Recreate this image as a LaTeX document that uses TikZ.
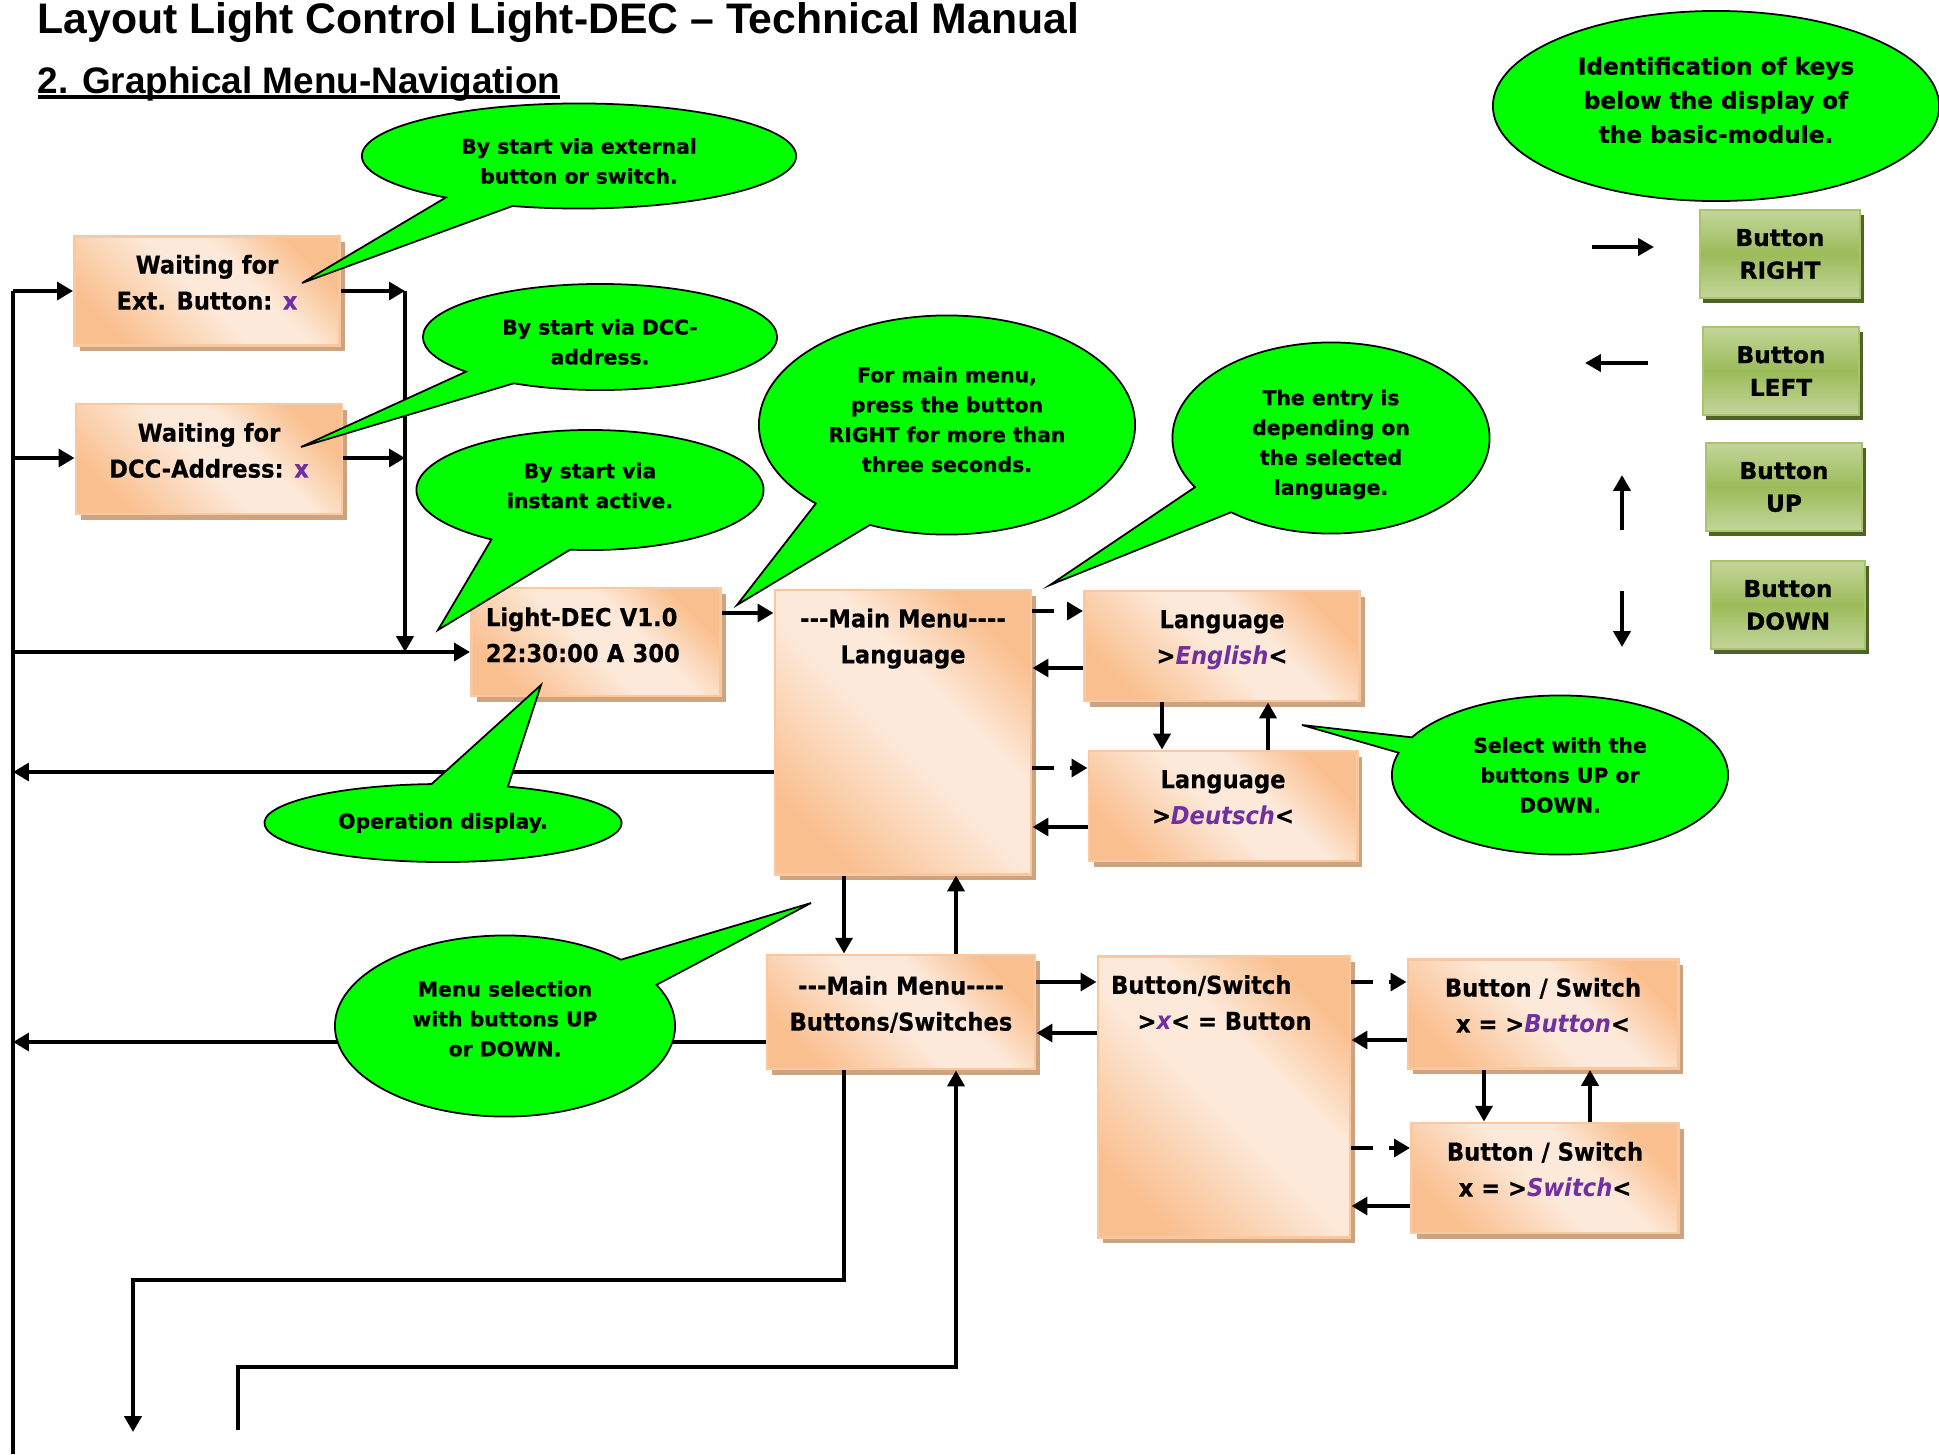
\documentclass[tikz,border=0pt]{standalone}
\usepackage{fontspec}
\usepackage{tikz}
\usetikzlibrary{arrows.meta,positioning,shapes.geometric,shapes.callouts,shadows}
\newfontfamily\headfont{Liberation Sans}
\newfontfamily\boxfont[FakeStretch=0.92, BoldFeatures={FakeBold=0.5}]{DejaVu Sans}
\newfontfamily\notefont[BoldFeatures={FakeBold=0.9}]{DejaVu Sans}
\pgfdeclarelayer{edgelayer}
\pgfdeclarelayer{nodelayer}
\pgfsetlayers{nodelayer,edgelayer,main}
\definecolor{boxlight}{RGB}{253,233,217}
\definecolor{boxorange}{RGB}{250,191,143}
\definecolor{boxedge}{RGB}{250,200,160}
\definecolor{boxshadow}{RGB}{205,163,128}
\definecolor{keylight}{RGB}{195,214,155}
\definecolor{keymid}{RGB}{155,187,89}
\definecolor{keyedge}{RGB}{170,196,110}
\definecolor{keyshadow}{RGB}{79,98,40}
\definecolor{notegreen}{RGB}{0,255,0}
\definecolor{lpurple}{RGB}{112,48,160}
\pgfdeclarehorizontalshading{peach}{100bp}{color(0bp)=(boxorange); color(25bp)=(boxorange); color(48bp)=(boxlight); color(60bp)=(boxlight); color(75bp)=(boxorange); color(100bp)=(boxorange)}
\pgfdeclareverticalshading{olive}{100bp}{color(0bp)=(keylight); color(25bp)=(keylight); color(50bp)=(keymid); color(75bp)=(keylight); color(100bp)=(keylight)}
\tikzstyle{none}=[inner sep=0pt]
\tikzstyle{menubox}=[rectangle, shading=peach, shading angle=45, draw=boxedge, line width=0.8pt, drop shadow={shadow xshift=1.5pt, shadow yshift=-1.6pt, fill=boxshadow, opacity=1}, font=\boxfont\bfseries\fontsize{7}{10.25}\selectfont, align=center, inner sep=2pt, text depth=5pt]
\tikzstyle{toplabel}=[anchor=north, inner sep=5.5pt, align=center, font=\boxfont\bfseries\fontsize{7}{10.25}\selectfont]
\tikzstyle{keybox}=[rectangle, shading=olive, draw=keyedge, line width=0.8pt, drop shadow={shadow xshift=1pt, shadow yshift=-1.3pt, fill=keyshadow, opacity=1}, font=\notefont\bfseries\fontsize{6.6}{9.3}\selectfont, align=center, minimum height=0.88cm]
\tikzstyle{bubble}=[ellipse callout, fill=notegreen, draw=black, line width=0.5pt, inner sep=0pt, align=center, callout pointer arc=20, font=\notefont\bfseries\fontsize{5.8}{8.5}\selectfont]
\tikzstyle{keynote}=[ellipse, fill=notegreen, draw=black, line width=0.5pt, inner sep=0pt, align=center, font=\notefont\bfseries\fontsize{6.6}{9.7}\selectfont]
\tikzstyle{flow}=[line width=1.4pt, -{Triangle[length=4.5pt,width=5pt]}]
\tikzstyle{thinflow}=[line width=1.1pt, -{Triangle[length=4.5pt,width=4.8pt]}]
\tikzstyle{dashflow}=[line width=1.4pt, dash pattern=on 6pt off 4.8pt, -{Triangle[length=4.5pt,width=5pt]}]
\tikzstyle{wire}=[line width=1.1pt]
\newcommand{\sel}[1]{\textcolor{lpurple}{\itshape #1}}
\newcommand{\menuhead}{-\kern0pt-\kern0pt-Main Menu-\kern0pt-\kern0pt-\kern0pt-}

\begin{document}
\begin{tikzpicture}[x=0.01cm, y=-0.01cm]
	\useasboundingbox (0,0) rectangle (1939,1454);
	\begin{pgfonlayer}{nodelayer}
		\node [style=menubox, minimum width=2.65cm, minimum height=1.09cm] (ExtBtn) at (207,291) {Waiting for\\Ext. Button: \textcolor{lpurple}{x}};
		\node [style=menubox, minimum width=2.66cm, minimum height=1.10cm] (DccAddr) at (209,459) {Waiting for\\DCC-Address: \textcolor{lpurple}{x}};
		\node [style=menubox, minimum width=2.49cm, minimum height=1.08cm, text width=2.2cm, align=left, text depth=14.4pt] (LightDec) at (596,642) {Light-DEC V1.0\\22:30:00 A 300};
		\node [style=menubox, minimum width=2.56cm, minimum height=2.84cm, label={[style=toplabel]north:{\menuhead\\Language}}] (MainLang) at (903,732) {};
		\node [style=menubox, minimum width=2.75cm, minimum height=1.10cm] (LangEn) at (1222,646) {Language\\>\sel{English}<};
		\node [style=menubox, minimum width=2.68cm, minimum height=1.10cm] (LangDe) at (1223,806) {Language\\>\sel{Deutsch}<};
		\node [style=menubox, minimum width=2.68cm, minimum height=1.14cm] (MainBtn) at (901,1012) {\menuhead\\Buttons/Switches};
		\node [style=menubox, minimum width=2.52cm, minimum height=2.81cm, label={[style=toplabel, align=left, xshift=-3.6pt]north:{Button/Switch\\\hspace*{7.5pt}>\sel{x}< = Button}}] (BtnSw) at (1224,1097) {};
		\node [style=menubox, minimum width=2.70cm, minimum height=1.09cm] (BswBtn) at (1543,1014) {Button / Switch\\x = >\sel{Button}<};
		\node [style=menubox, minimum width=2.67cm, minimum height=1.10cm] (BswSw) at (1545,1178) {Button / Switch\\x = >\sel{Switch}<};
		\node [style=keybox, minimum width=1.60cm] (KeyRight) at (1780,254) {Button\\RIGHT};
		\node [style=keybox, minimum width=1.56cm] (KeyLeft) at (1781,371) {Button\\LEFT};
		\node [style=keybox, minimum width=1.56cm] (KeyUp) at (1784,487) {Button\\UP};
		\node [style=keybox, minimum width=1.54cm] (KeyDown) at (1788,605) {Button\\DOWN};
		\node [style=none] (busTop) at (13,291) {};
		\node [style=none] (busDcc) at (13,458) {};
		\node [style=none] (busDec) at (13,652) {};
		\node [style=none] (busEnd) at (13,1454) {};
		\node [style=none] (joinTop) at (405,291) {};
		\node [style=none] (joinDcc) at (405,458) {};
		\node [style=none] (lvMenu) at (0,613) {};
		\node [style=none] (lvEn) at (0,611) {};
		\node [style=none] (lvEnRet) at (0,668) {};
		\node [style=none] (lvBack) at (0,772) {};
		\node [style=none] (lvDe) at (0,768) {};
		\node [style=none] (lvDeRet) at (0,827) {};
		\node [style=none] (lvBtn) at (0,982) {};
		\node [style=none] (lvBtnRet) at (0,1033) {};
		\node [style=none] (lvBack2) at (0,1042) {};
		\node [style=none] (lvIRet) at (0,1040) {};
		\node [style=none] (lvSw) at (0,1148) {};
		\node [style=none] (lvSwRet) at (0,1206) {};
		\node [style=none] (colDown) at (844,0) {};
		\node [style=none] (colUp) at (956,0) {};
		\node [style=none] (colEnDown) at (1162,0) {};
		\node [style=none] (colEnUp) at (1268,0) {};
		\node [style=none] (colIDown) at (1484,0) {};
		\node [style=none] (colIUp) at (1590,0) {};
		\node [style=none] (loopA) at (133,1280) {};
		\node [style=none] (loopAEnd) at (133,1432) {};
		\node [style=none] (loopBStart) at (238,1430) {};
		\node [style=none] (loopB) at (956,1367) {};
		\node [style=none] (arrR1) at (1592,247) {};
		\node [style=none] (arrR2) at (1654,247) {};
		\node [style=none] (arrL1) at (1648,363) {};
		\node [style=none] (arrL2) at (1585,363) {};
		\node [style=none] (arrU1) at (1622,530) {};
		\node [style=none] (arrU2) at (1622,475) {};
		\node [style=none] (arrD1) at (1622,591) {};
		\node [style=none] (arrD2) at (1622,647) {};
	\end{pgfonlayer}
	\begin{pgfonlayer}{edgelayer}
		\draw [style=wire] (busTop.center) to (busEnd.center);
		\draw [style=flow] (busTop.center) to (busTop.center -| ExtBtn.west);
		\draw [style=flow] (busDcc.center) to (busDcc.center -| DccAddr.west);
		\draw [style=flow] (busDec.center) to (busDec.center -| LightDec.west);
		\draw [style=flow] (ExtBtn.east |- joinTop.center) to (joinTop.center);
		\draw [style=flow] (DccAddr.east |- joinDcc.center) to (joinDcc.center);
		\draw [style=thinflow] (joinTop.center) to (joinTop.center |- busDec.center);
		\draw [style=flow] (LightDec.east |- lvMenu.center) to (MainLang.west |- lvMenu.center);
		\draw [style=flow] (MainLang.west |- lvBack.center) to (busEnd.center |- lvBack.center);
		\draw [style=dashflow] (MainLang.east |- lvEn.center) to (LangEn.west |- lvEn.center);
		\draw [style=flow] (LangEn.west |- lvEnRet.center) to (MainLang.east |- lvEnRet.center);
		\draw [style=dashflow] (MainLang.east |- lvDe.center) to (LangDe.west |- lvDe.center);
		\draw [style=flow] (LangDe.west |- lvDeRet.center) to (MainLang.east |- lvDeRet.center);
		\draw [style=thinflow] (LangEn.south -| colEnDown.center) to (LangDe.north -| colEnDown.center);
		\draw [style=thinflow] (LangDe.north -| colEnUp.center) to (LangEn.south -| colEnUp.center);
		\draw [style=thinflow] (MainLang.south -| colDown.center) to (MainBtn.north -| colDown.center);
		\draw [style=thinflow] (MainBtn.north -| colUp.center) to (MainLang.south -| colUp.center);
		\draw [style=flow] (MainBtn.west |- lvBack2.center) to (busEnd.center |- lvBack2.center);
		\draw [style=flow] (MainBtn.east |- lvBtn.center) to (BtnSw.west |- lvBtn.center);
		\draw [style=flow] (BtnSw.west |- lvBtnRet.center) to (MainBtn.east |- lvBtnRet.center);
		\draw [style=dashflow] (BtnSw.east |- lvBtn.center) to (BswBtn.west |- lvBtn.center);
		\draw [style=flow] (BswBtn.west |- lvIRet.center) to (BtnSw.east |- lvIRet.center);
		\draw [style=dashflow] (BtnSw.east |- lvSw.center) to (BswSw.west |- lvSw.center);
		\draw [style=flow] (BswSw.west |- lvSwRet.center) to (BtnSw.east |- lvSwRet.center);
		\draw [style=thinflow] (BswBtn.south -| colIDown.center) to (BswSw.north -| colIDown.center);
		\draw [style=thinflow] (BswSw.north -| colIUp.center) to (BswBtn.south -| colIUp.center);
		\draw [style=thinflow] (MainBtn.south -| colDown.center) |- (loopA.center) -- (loopAEnd.center);
		\draw [style=thinflow] (loopBStart.center) |- (loopB.center) -- (MainBtn.south -| loopB.center);
		\draw [style=thinflow] (arrR1.center) to (arrR2.center);
		\draw [style=thinflow] (arrL1.center) to (arrL2.center);
		\draw [style=thinflow] (arrU1.center) to (arrU2.center);
		\draw [style=thinflow] (arrD1.center) to (arrD2.center);
	\end{pgfonlayer}
	\node [style=none, anchor=base west, font=\headfont\bfseries\fontsize{12.15}{14}\selectfont] (title) at (37,33) {Layout Light Control Light-DEC – Technical Manual};
	\node [style=none, anchor=base west, font=\headfont\bfseries\fontsize{10.5}{12}\selectfont] (subtitle) at (37,93) {\sbox0{2. Graphical Menu-Navigation}\usebox0\llap{\rule[-1.6pt]{\wd0}{0.9pt}}};
	\node [style=bubble, minimum width=4.34cm, minimum height=1.05cm, text height=15.7pt, text depth=0pt, callout absolute pointer={(302,283)}] (noteExt) at (579,156) {By start via external\\button or switch.};
	\node [style=bubble, minimum width=3.54cm, minimum height=1.06cm, text height=15.6pt, text depth=0pt, callout absolute pointer={(301,447)}] (noteDcc) at (600,337) {By start via DCC-\\address.};
	\node [style=bubble, minimum width=3.47cm, minimum height=1.20cm, callout pointer arc=28, text depth=2.6pt, callout absolute pointer={(438,630)}] (noteInst) at (590,490) {By start via\\instant active.};
	\node [style=bubble, minimum width=3.76cm, minimum height=2.19cm, text depth=3.2pt, callout absolute pointer={(737,605)}] (noteMenu) at (947,425) {For main menu,\\press the button\\RIGHT for more than\\three seconds.};
	\node [style=bubble, minimum width=3.17cm, minimum height=1.91cm, text height=32.3pt, text depth=0pt, callout absolute pointer={(1050,585)}] (noteEntry) at (1331,438) {The entry is\\depending on\\the selected\\language.};
	\node [style=keynote, minimum width=4.46cm, minimum height=1.90cm, text depth=3.5pt] (noteKeys) at (1716,106) {Identification of keys\\below the display of\\the basic-module.};
	\node [style=bubble, minimum width=3.36cm, minimum height=1.59cm, callout pointer arc=12, callout absolute pointer={(1302,725)}] (noteSel) at (1560,775) {Select with the\\buttons UP or\\DOWN.};
	\node [style=bubble, minimum width=3.57cm, minimum height=0.78cm, callout pointer arc=25, callout absolute pointer={(541,685)}] (noteOp) at (443,823) {Operation display.};
	\node [style=bubble, minimum width=3.40cm, minimum height=1.81cm, text depth=4.2pt, callout absolute pointer={(811,903)}] (noteMenuSel) at (505,1026) {Menu selection\\with buttons UP\\or DOWN.};
\end{tikzpicture}
\end{document}
